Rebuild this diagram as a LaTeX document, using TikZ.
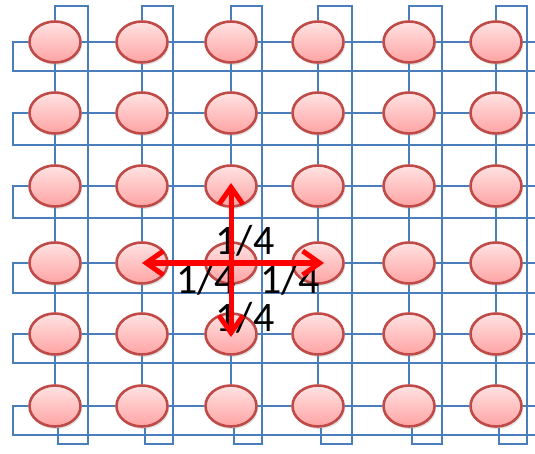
\documentclass[tikz,border=0pt]{standalone}
\usepackage{fontspec}
\setmainfont{Carlito}
\usetikzlibrary{shapes.geometric,shadows,arrows.meta}
\pgfdeclarelayer{bg}
\pgfsetlayers{bg,main}
\definecolor{wire}{HTML}{4A7EBB}
\definecolor{rim}{HTML}{BE4B48}
\definecolor{pinktop}{HTML}{FFE3E3}
\definecolor{pinkbot}{HTML}{FFA3A3}
\begin{document}
\begin{tikzpicture}[x=1pt,y=-1pt,
  cell/.style={ellipse, draw=rim, line width=2.6pt, top color=pinktop, bottom color=pinkbot,
    minimum width=51pt, minimum height=41pt, inner sep=0pt,
    drop shadow={opacity=0.22, shadow xshift=1.5pt, shadow yshift=-2.5pt}},
  wireline/.style={draw=wire, line width=2.5pt},
  flow/.style={draw=red, line width=5pt, -{Straight Barb[length=17pt,width=24pt]}},
  frac/.style={font=\fontsize{42}{42}\selectfont, inner sep=0pt, text=black}]
\useasboundingbox (0,0) rectangle (535,454);
% cells
\foreach \r/\y in {1/42,2/113,3/186,4/263,5/334,6/406}
  \foreach \c/\x in {1/55,2/142,3/231,4/318,5/409,6/496}
    \node[cell] (n-\r-\c) at (\x,\y) {};
\begin{pgfonlayer}{bg}
  \fill[white] (0,0) rectangle (535,454);
  % rows
  \foreach \r/\y/\z in {1/42/71,2/113/145,3/186/218,4/263/293,5/334/363,6/406/435}{
    \coordinate (rowL-\r) at (13,\z);
    \coordinate (rowE-\r) at (535,\y);
    \coordinate (retE-\r) at (535,\z);
    \draw[wireline] (n-\r-1.west) -| (rowL-\r) -- (retE-\r);
    \draw[wireline] (n-\r-6.east) -- (rowE-\r);
    \foreach \c/\d in {1/2,2/3,3/4,4/5,5/6}
      \draw[wireline] (n-\r-\c.east) -- (n-\r-\d.west);
  }
  % columns
  \foreach \c/\w in {1/88,2/173,3/262,4/352,5/442,6/527}{
    \coordinate (colT-\c) at (\w,6);
    \coordinate (colB-\c) at (\w,444);
    \draw[wireline] (n-1-\c.north) |- (colT-\c) -- (colB-\c) -| ([xshift=3pt]n-6-\c.south);
    \foreach \r/\s in {1/2,2/3,3/4,4/5,5/6}
      \draw[wireline] (n-\r-\c.south) -- (n-\s-\c.north);
  }
\end{pgfonlayer}
% labels
\node[frac] (q-up) at (245,241) {1/4};
\node[frac] (q-left) at (206,280) {1/4};
\node[frac] (q-right) at (290,280) {1/4};
\node[frac] (q-down) at (245,318) {1/4};
% arrows
\draw[flow] (n-4-3.center) -- ([yshift=3pt]n-3-3.center);
\draw[flow] (n-4-3.center) -- (n-4-2.center);
\draw[flow] (n-4-3.center) -- ([xshift=6pt]n-4-4.center);
\draw[flow] (n-4-3.center) -- ([yshift=-3pt]n-5-3.center);
\end{tikzpicture}
\end{document}
